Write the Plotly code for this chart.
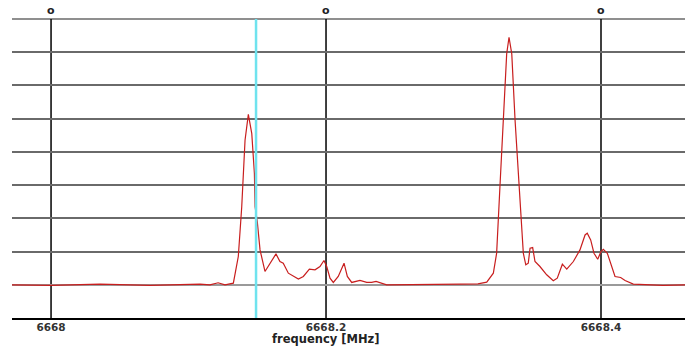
import plotly.graph_objects as go

freq = [6667.9716, 6668.0000, 6668.0356, 6668.0720, 6668.1084, 6668.1156, 6668.1215, 6668.1265,
        6668.1326, 6668.1362, 6668.1387, 6668.1411, 6668.1435, 6668.1460, 6668.1479, 6668.1484,
        6668.1500, 6668.1520, 6668.1556, 6668.1593, 6668.1636, 6668.1665, 6668.1689, 6668.1726,
        6668.1799, 6668.1835, 6668.1879, 6668.1920, 6668.1956, 6668.1985, 6668.2005, 6668.2029,
        6668.2053, 6668.2089, 6668.2131, 6668.2155, 6668.2187, 6668.2247, 6668.2296, 6668.2332,
        6668.2364, 6668.2441, 6668.2684, 6668.2975, 6668.3105, 6668.3169, 6668.3217, 6668.3241,
        6668.3265, 6668.3289, 6668.3314, 6668.3331, 6668.3351, 6668.3375, 6668.3411, 6668.3435,
        6668.3453, 6668.3471, 6668.3484, 6668.3503, 6668.3520, 6668.3556, 6668.3605, 6668.3653,
        6668.3682, 6668.3719, 6668.3751, 6668.3799, 6668.3847, 6668.3884, 6668.3900, 6668.3925,
        6668.3949, 6668.3976, 6668.4000, 6668.4017, 6668.4046, 6668.4071, 6668.4102, 6668.4143,
        6668.4175, 6668.4235, 6668.4308, 6668.4450, 6668.4611]
amp = [0.0, -0.02, 0.02, -0.02, 0.02, 0.0, 0.06, 0.0,
       0.05, 0.85, 2.35, 4.35, 5.13, 4.55, 3.35, 2.35,
       1.9, 1.05, 0.4, 0.65, 0.93, 0.7, 0.65, 0.35,
       0.17, 0.25, 0.47, 0.45, 0.55, 0.73, 0.55, 0.2,
       0.07, 0.25, 0.65, 0.25, 0.07, 0.13, 0.07, 0.07,
       0.1, 0.0, 0.0, 0.02, 0.03, 0.08, 0.35, 0.95,
       2.95, 4.95, 6.95, 7.45, 6.95, 4.95, 2.45, 0.95,
       0.6, 0.65, 1.1, 1.12, 0.7, 0.55, 0.3, 0.12,
       0.2, 0.62, 0.47, 0.7, 1.05, 1.5, 1.55, 1.35,
       0.95, 0.77, 1.0, 1.07, 0.95, 0.65, 0.25, 0.22,
       0.13, 0.02, 0.0, -0.02, 0.0]

tick_vals = [6668.0, 6668.2, 6668.4]
tick_text = ["6668", "6668.2", "6668.4"]
top_text = ["o", "o", "o"]
x_title = "frequency [MHz]"
cursor_freq = 6668.1491
x_range = [6667.9716, 6668.4611]
y_range = [-1, 8.03]
y_top = 8

fig = go.Figure()
fig.add_trace(go.Scatter(x=freq, y=amp, mode="lines",
                         line=dict(color="#c81e1e", width=1.2), hoverinfo="skip"))

# top gridline (at the edge of the gridded area)
fig.add_shape(type="line", x0=0, x1=1, y0=y_top, y1=y_top, xref="paper", yref="y",
              line=dict(color="#6a6a6a", width=1.5), layer="below")

# vertical marker lines at the tick positions, spanning the gridded area
for xv in tick_vals:
    fig.add_shape(type="line", x0=xv, x1=xv, y0=-1, y1=y_top, xref="x", yref="y",
                  line=dict(color="black", width=1.5), layer="below")

fig.add_shape(type="line", x0=cursor_freq, x1=cursor_freq, y0=-1, y1=y_top,
              xref="x", yref="y", line=dict(color="#6fe3ee", width=2.5), layer="above")

for xv, t in zip(tick_vals, top_text):
    fig.add_annotation(x=xv, y=y_top, xref="x", yref="y", yanchor="bottom", yshift=0,
                       text="<b>%s</b>" % t, showarrow=False,
                       font=dict(family="DejaVu Sans", size=11, color="#222"))

fig.add_annotation(x=0.466, y=0, xref="paper", yref="paper", yanchor="middle", yshift=-21,
                   text="<b>%s</b>" % x_title, showarrow=False,
                   font=dict(family="DejaVu Sans", size=11.5, color="#222"))

fig.update_layout(
    width=685, height=346,
    margin=dict(l=12, r=0, t=18, b=28),
    paper_bgcolor="white", plot_bgcolor="white",
    showlegend=False,
    xaxis=dict(range=x_range, tickvals=tick_vals, ticktext=tick_text,
               showgrid=False, ticklabelstandoff=-2,
               zeroline=False, showline=True, linecolor="black", linewidth=2,
               ticks="", tickfont=dict(family="DejaVu Sans", size=10.5, color="#333", weight="bold"),
               automargin=False),
    yaxis=dict(range=y_range, dtick=1, showticklabels=False, ticks="",
               showgrid=True, gridcolor="#6a6a6a", gridwidth=1.5,
               zeroline=True, zerolinecolor="#9a9a9a", zerolinewidth=1.5,
               showline=False, automargin=False),
)

fig.write_html("out.html")
